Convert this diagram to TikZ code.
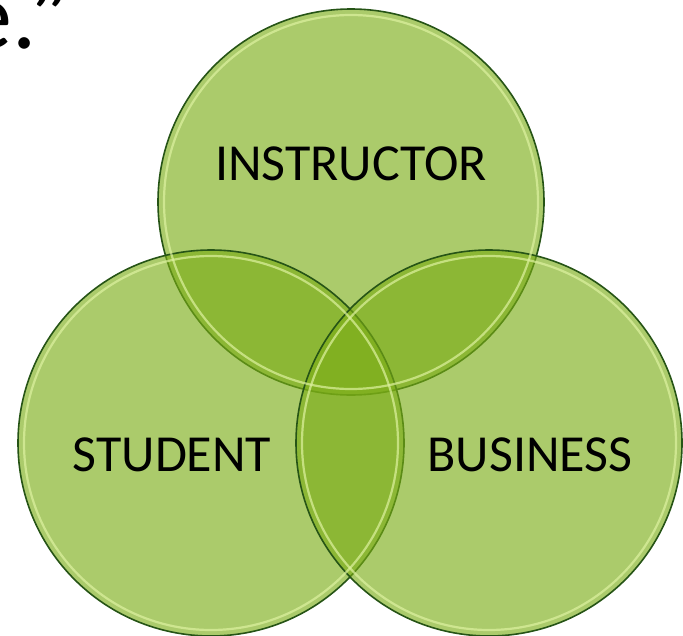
\documentclass[tikz,border=0pt]{standalone}
\usepackage{fontspec}
\setmainfont{Carlito}
\definecolor{setgreen}{RGB}{122,172,21}
\definecolor{rimdark}{RGB}{38,84,22}
\definecolor{rimlight}{RGB}{222,242,160}

\begin{document}
\begin{tikzpicture}
          [x=1pt,y=-1pt,
           set/.style={draw=rimdark,line width=1.6pt,shape=circle,fill=setgreen,fill opacity=0.63,
                       inner sep=0pt,minimum size=386pt},
           setlabel/.style={font=\fontsize{52}{60}\selectfont,inner sep=0pt}]

          \useasboundingbox (0,0) rectangle (683,635);
          \clip (0,0) rectangle (683,635);

          % the three sets
          \node[set] (instructor) at (351,202) {};
          \node[set] (student) at (211,443) {};
          \node[set] (business) at (489,443) {};

          % light inner rim
          \foreach \s in {instructor,student,business}
            \draw[rimlight,line width=2.2pt,opacity=0.7] (\s.center) circle (187pt);

          \node[setlabel] (instructorlabel) at (351,164) {INSTRUCTOR};
          \node[setlabel] (studentlabel) at (172,455) {STUDENT};
          \node[setlabel] (businesslabel) at (530,455) {BUSINESS};

          % end of the slide text above
          \node[font=\fontsize{96}{110}\selectfont,inner sep=0pt,anchor=base west] (quote) at (-36,48) {e.”};
        \end{tikzpicture}
\end{document}
